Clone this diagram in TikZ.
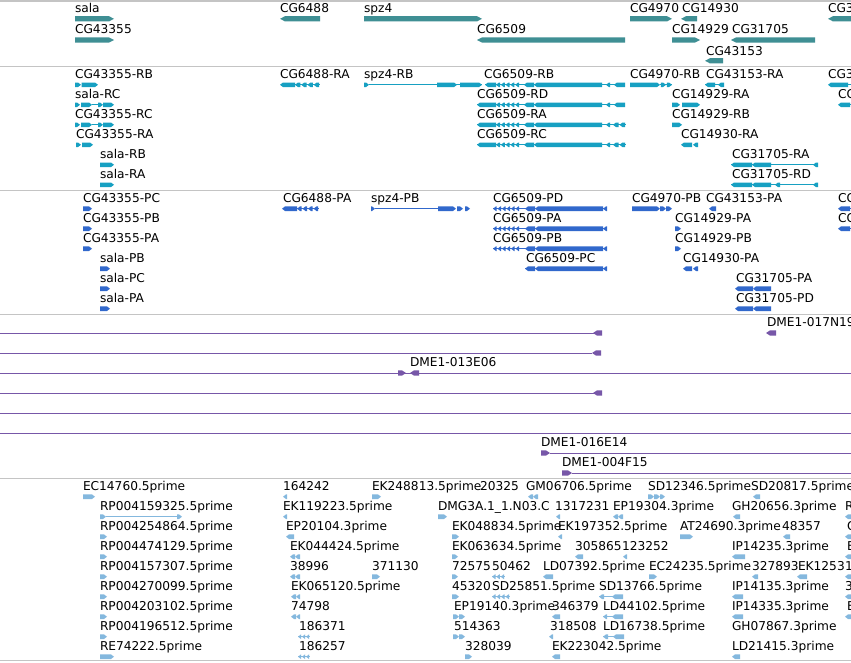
\documentclass[tikz,border=0pt]{standalone}
\usepackage{fontspec}
\setmainfont{DejaVu Sans}
\definecolor{cA}{RGB}{63,143,148}
\definecolor{cB}{RGB}{23,160,194}
\definecolor{cC}{RGB}{49,104,204}
\definecolor{cD}{RGB}{119,87,168}
\definecolor{cE}{RGB}{132,184,222}
\definecolor{sepc}{RGB}{196,196,196}
\def\exh{2.3}\def\ext{3}
\newcommand{\exonR}[3]{\fill (#1,#3-\exh) -- ({max(#1,#2-\ext)},#3-\exh) -- (#2,#3) -- ({max(#1,#2-\ext)},#3+\exh) -- (#1,#3+\exh) -- cycle;}
\newcommand{\exonL}[3]{\fill (#2,#3-\exh) -- ({min(#2,#1+\ext)},#3-\exh) -- (#1,#3) -- ({min(#2,#1+\ext)},#3+\exh) -- (#2,#3+\exh) -- cycle;}
\newcommand{\intron}[3]{\draw[line width=1pt] (#1,#3) -- (#2,#3);}
\newcommand{\chevL}[4]{\intron{#1}{#2}{#3}\foreach \ci in {1,...,#4}{\pgfmathsetmacro\ca{#1+(\ci-1)*(#2-#1)/#4}\pgfmathsetmacro\cb{#1+\ci*(#2-#1)/#4-0.8}\exonL{\ca}{\cb}{#3}}}
\newcommand{\chevR}[4]{\intron{#1}{#2}{#3}\foreach \ci in {1,...,#4}{\pgfmathsetmacro\ca{#1+(\ci-1)*(#2-#1)/#4+0.8}\pgfmathsetmacro\cb{#1+\ci*(#2-#1)/#4}\exonR{\ca}{\cb}{#3}}}
\newcounter{labn}
\newcommand{\lab}[3]{\stepcounter{labn}\node[lab] (L\thelabn) at (#1,#2) {#3};}
% CG6509 transcript patterns
\newcommand{\rbpat}[2]{\intron{#1}{625}{#2}\exonL{#1}{496}{#2}\chevL{496}{520}{#2}{5}\exonL{524}{534}{#2}\exonL{534}{602}{#2}\exonL{606}{610}{#2}}
\newcommand{\pdpat}[1]{\intron{493}{607}{#1}\chevL{493}{520}{#1}{6}\exonL{525}{535}{#1}\exonL{535}{603}{#1}\exonL{603}{607}{#1}}
\newcommand{\salarc}[1]{\exonR{75}{80}{#1}\exonR{81}{92}{#1}\intron{92}{98}{#1}\exonR{98}{103}{#1}\exonR{103}{114}{#1}}
\begin{document}
\begin{tikzpicture}[x=1pt,y=-1pt,
  lab/.style={anchor=base west,inner sep=0pt,outer sep=0pt,font=\fontsize{12.2}{14}\selectfont,text=black},
  sepline/.style={draw=sepc,line width=1.2pt},
  trkA/.style={color=cA},trkB/.style={color=cB},trkC/.style={color=cC},
  trkD/.style={color=cD},trkE/.style={color=cE}]
\useasboundingbox (0,0) rectangle (851,662);
\fill[white] (0,0) rectangle (851,662);
\clip (0,0) rectangle (851,662);
\foreach \s in {1,66.5,190.5,314.5,478.5,660.5} \draw[sepline] (0,\s) -- (851,\s);

% ---------------- Track 1: genes
\begin{scope}[trkA]\def\exh{2.6}\def\ext{5}
\exonR{75}{114}{18.8}\exonL{280}{320}{18.8}\exonR{364}{482}{18.8}\exonR{630}{672}{18.8}\exonL{681}{697}{18.8}\exonL{828}{856}{18.8}
\exonR{75}{114}{40}\exonL{477}{625}{40}\exonR{672}{700}{40}\exonL{731}{815}{40}
\exonL{705}{723}{60.8}
\end{scope}
\lab{75}{12.3}{sala}\lab{280}{12.3}{CG6488}\lab{364}{12.3}{spz4}\lab{630}{12.3}{CG4970}\lab{682}{12.3}{CG14930}\lab{828}{12.3}{CG3}
\lab{75}{33.7}{CG43355}\lab{477}{33.7}{CG6509}\lab{672}{33.7}{CG14929}\lab{732}{33.7}{CG31705}
\lab{706}{55}{CG43153}

% ---------------- Track 2: transcripts
\begin{scope}[trkB]
\exonR{75}{81}{84.8}\exonR{81.5}{98}{84.8}
\exonL{280}{295}{84.8}\chevL{295}{320}{84.8}{4}
\exonR{364}{369}{84.8}\intron{369}{482}{84.8}\exonR{437}{457}{84.8}\exonR{460}{482}{84.8}
\rbpat{485}{84.8}\exonL{614}{625}{84.8}
\exonR{630}{660}{84.8}\chevR{660}{672}{84.8}{2}
\intron{705}{724}{84.8}\exonL{705}{715}{84.8}\exonL{718}{724}{84.8}
\exonL{828}{848}{84.8}\intron{848}{851}{84.8}
\salarc{104.8}
\rbpat{477}{104.8}\exonL{614}{625}{104.8}
\exonR{672}{680}{104.8}\exonR{682}{700}{104.8}
\exonL{838}{850}{104.8}\intron{850}{851}{104.8}
\salarc{124.8}
\rbpat{477}{124.8}\chevL{613}{626}{124.8}{2}
\exonR{672}{682}{124.8}
\exonR{76}{81}{144.8}\exonR{82}{93}{144.8}
\rbpat{477}{144.8}\chevL{613}{626}{144.8}{2}
\exonL{681}{692}{144.8}\exonL{693}{698}{144.8}
\exonR{100}{114}{164.8}
\intron{731}{818}{164.8}\exonL{731}{752}{164.8}\exonL{752}{771}{164.8}\exonL{813}{818}{164.8}
\exonR{100}{114}{184.8}
\intron{731}{818}{184.8}\exonL{731}{752}{184.8}\exonL{752}{771}{184.8}\exonL{775}{780}{184.8}\exonL{813}{818}{184.8}
\end{scope}
\lab{75}{78.3}{CG43355-RB}\lab{280}{78.3}{CG6488-RA}\lab{364}{78.3}{spz4-RB}\lab{484}{78.3}{CG6509-RB}\lab{630}{78.3}{CG4970-RB}\lab{706}{78.3}{CG43153-RA}\lab{828}{78.3}{CG3}
\lab{75}{98.3}{sala-RC}\lab{477}{98.3}{CG6509-RD}\lab{672}{98.3}{CG14929-RA}\lab{838}{98.3}{CG3}
\lab{75}{118.3}{CG43355-RC}\lab{477}{118.3}{CG6509-RA}\lab{672}{118.3}{CG14929-RB}
\lab{76}{138.3}{CG43355-RA}\lab{477}{138.3}{CG6509-RC}\lab{681}{138.3}{CG14930-RA}
\lab{100}{158.3}{sala-RB}\lab{732}{158.3}{CG31705-RA}
\lab{100}{178.3}{sala-RA}\lab{732}{178.3}{CG31705-RD}

% ---------------- Track 3: proteins
\begin{scope}[trkC]
\exonR{83}{92}{208.7}
\exonL{282}{297}{208.7}\chevL{297}{319}{208.7}{4}
\exonR{371}{375}{208.7}\intron{375}{438}{208.7}\exonR{438}{456}{208.7}\exonR{457}{463}{208.7}\exonR{465}{470}{208.7}
\pdpat{208.7}
\exonR{632}{660}{208.7}\exonR{660}{666}{208.7}\exonR{666}{672}{208.7}
\exonL{709}{716}{208.7}
\exonL{838}{850}{208.7}\intron{850}{851}{208.7}
\exonR{83}{92}{228.7}\pdpat{228.7}\exonR{675}{681}{228.7}\exonL{838}{850}{228.7}\intron{850}{851}{228.7}
\exonR{83}{92}{248.7}\pdpat{248.7}\exonR{675}{681}{248.7}
\exonR{100}{110}{268.7}
\intron{525}{607}{268.7}\exonL{525}{535}{268.7}\exonL{535}{603}{268.7}\exonL{603}{607}{268.7}
\exonL{683}{692}{268.7}\exonL{693}{698}{268.7}
\exonR{100}{110}{288.7}\exonL{735}{753}{288.7}\exonL{753}{771}{288.7}
\exonR{100}{110}{308.7}\exonL{735}{753}{308.7}\exonL{753}{771}{308.7}
\end{scope}
\lab{83}{202.2}{CG43355-PC}\lab{283}{202.2}{CG6488-PA}\lab{371}{202.2}{spz4-PB}\lab{493}{202.2}{CG6509-PD}\lab{632}{202.2}{CG4970-PB}\lab{706}{202.2}{CG43153-PA}\lab{838}{202.2}{CG3}
\lab{83}{222.2}{CG43355-PB}\lab{493}{222.2}{CG6509-PA}\lab{675}{222.2}{CG14929-PA}\lab{838}{222.2}{CG3}
\lab{83}{242.2}{CG43355-PA}\lab{493}{242.2}{CG6509-PB}\lab{675}{242.2}{CG14929-PB}
\lab{100}{262.2}{sala-PB}\lab{526}{262.2}{CG6509-PC}\lab{683}{262.2}{CG14930-PA}
\lab{100}{282.2}{sala-PC}\lab{736}{282.2}{CG31705-PA}
\lab{100}{302.2}{sala-PA}\lab{736}{302.2}{CG31705-PD}

% ---------------- Track 4: BAC clones
\begin{scope}[trkD]\def\exh{2.6}\def\ext{4}
\intron{0}{594}{333}\exonL{593}{602}{333}
\exonL{766}{776}{333}
\intron{0}{592}{353}\exonL{592}{601}{353}
\intron{0}{851}{373}\exonR{398}{406}{373}\exonL{410}{419}{373}
\intron{0}{594}{393}\exonL{593}{602}{393}
\intron{0}{851}{413}
\intron{0}{851}{433}
\exonR{541}{550}{453}\intron{550}{851}{453}
\exonR{562}{572}{473}\intron{572}{851}{473}
\end{scope}
\lab{767}{326.5}{DME1-017N19}\lab{410}{366.5}{DME1-013E06}\lab{541}{446.5}{DME1-016E14}\lab{562}{466.5}{DME1-004F15}

% ---------------- Track 5: ESTs
\begin{scope}[trkE]
% row 0
\exonR{83}{95}{496.7}\exonL{283}{287}{496.7}\exonR{372}{381}{496.7}\exonL{528}{533}{496.7}\exonL{533}{538}{496.7}
\exonR{648}{654}{496.7}\exonR{654}{660}{496.7}\exonR{660}{665}{496.7}\exonL{753}{760}{496.7}
% row 1
\exonR{100}{106}{516.7}\intron{106}{178}{516.7}\exonR{177}{182}{516.7}\exonL{283}{287}{516.7}\exonR{438}{447}{516.7}
\exonL{556}{560}{516.7}\exonL{613}{618}{516.7}\exonL{618}{623}{516.7}\exonL{733}{740}{516.7}\exonL{845}{852}{516.7}
% row 2
\exonR{100}{107}{536.7}\exonL{286}{294}{536.7}\exonR{452}{459}{536.7}\exonL{558}{562}{536.7}\exonR{680}{693}{536.7}
\exonL{783}{790}{536.7}\exonL{845}{852}{536.7}
% row 3
\exonR{100}{107}{556.7}\exonL{290}{295}{556.7}\exonL{295}{300}{556.7}\exonR{452}{458}{556.7}\exonL{575}{583}{556.7}
\exonL{623}{627}{556.7}\exonL{732}{745}{556.7}\exonL{845}{852}{556.7}
% row 4
\exonR{100}{107}{576.7}\exonL{290}{295}{576.7}\exonL{295}{300}{576.7}\exonR{372}{380}{576.7}\exonR{452}{458}{576.7}
\chevL{492}{505}{576.7}{3}\exonL{543}{553}{576.7}\exonR{649}{657}{576.7}\exonL{752}{758}{576.7}\exonL{797}{807}{576.7}\exonL{845}{852}{576.7}
% row 5
\exonR{100}{107}{596.7}\exonL{291}{296}{596.7}\exonL{296}{300}{596.7}\exonR{452}{459}{596.7}\chevL{492}{510}{596.7}{4}
\intron{599}{623}{596.7}\exonL{599}{604}{596.7}\exonL{612}{623}{596.7}\exonL{732}{743}{596.7}\exonL{845}{852}{596.7}
% row 6
\exonR{100}{107}{616.7}\exonL{291}{296}{616.7}\exonL{296}{300}{616.7}\exonR{453}{459}{616.7}\exonR{459}{465}{616.7}
\exonL{552}{560}{616.7}\intron{603}{623}{616.7}\exonL{603}{607}{616.7}\exonL{612}{623}{616.7}\exonL{732}{743}{616.7}\exonL{845}{852}{616.7}
% row 7
\exonR{100}{107}{636.7}\chevL{298}{310}{636.7}{3}\exonR{453}{459}{636.7}\exonR{459}{465}{636.7}\exonL{549}{553}{636.7}
\intron{603}{624}{636.7}\exonL{603}{608}{636.7}\exonL{613}{624}{636.7}
% row 8
\exonR{100}{114}{656.7}\chevL{298}{310}{656.7}{3}\exonR{465}{472}{656.7}\exonL{552}{560}{656.7}\exonL{732}{740}{656.7}
\end{scope}
\lab{83}{490.7}{EC14760.5prime}\lab{283}{490.7}{164242}\lab{372}{490.7}{EK248813.5prime}\lab{480}{490.7}{20325}\lab{526}{490.7}{GM06706.5prime}\lab{648}{490.7}{SD12346.5prime}\lab{751}{490.7}{SD20817.5prime}
\lab{100}{510.7}{RP004159325.5prime}\lab{283}{510.7}{EK119223.5prime}\lab{438}{510.7}{DMG3A.1\_1.N03.C}\lab{555}{510.7}{1317231}\lab{613}{510.7}{EP19304.3prime}\lab{732}{510.7}{GH20656.3prime}\lab{845}{510.7}{R}
\lab{100}{530.7}{RP004254864.5prime}\lab{286}{530.7}{EP20104.3prime}\lab{452}{530.7}{EK048834.5prime}\lab{558}{530.7}{EK197352.5prime}\lab{680}{530.7}{AT24690.3prime}\lab{782}{530.7}{48357}\lab{847}{530.7}{C}
\lab{100}{550.7}{RP004474129.5prime}\lab{290}{550.7}{EK044424.5prime}\lab{452}{550.7}{EK063634.5prime}\lab{575}{550.7}{305865}\lab{622}{550.7}{123252}\lab{732}{550.7}{IP14235.3prime}\lab{847}{550.7}{E}
\lab{100}{570.7}{RP004157307.5prime}\lab{290}{570.7}{38996}\lab{372}{570.7}{371130}\lab{452}{570.7}{72575}\lab{492}{570.7}{50462}\lab{543}{570.7}{LD07392.5prime}\lab{649}{570.7}{EC24235.5prime}\lab{752}{570.7}{327893}\lab{798}{570.7}{EK1253}\lab{845}{570.7}{1}
\lab{100}{590.7}{RP004270099.5prime}\lab{291}{590.7}{EK065120.5prime}\lab{452}{590.7}{45320}\lab{492}{590.7}{SD25851.5prime}\lab{599}{590.7}{SD13766.5prime}\lab{732}{590.7}{IP14135.3prime}\lab{845}{590.7}{3}
\lab{100}{610.7}{RP004203102.5prime}\lab{291}{610.7}{74798}\lab{454}{610.7}{EP19140.3prime}\lab{552}{610.7}{346379}\lab{603}{610.7}{LD44102.5prime}\lab{732}{610.7}{IP14335.3prime}\lab{847}{610.7}{E}
\lab{100}{630.7}{RP004196512.5prime}\lab{299}{630.7}{186371}\lab{454}{630.7}{514363}\lab{550}{630.7}{318508}\lab{603}{630.7}{LD16738.5prime}\lab{732}{630.7}{GH07867.3prime}
\lab{100}{650.7}{RE74222.5prime}\lab{299}{650.7}{186257}\lab{465}{650.7}{328039}\lab{552}{650.7}{EK223042.5prime}\lab{732}{650.7}{LD21415.3prime}
\end{tikzpicture}
\end{document}
